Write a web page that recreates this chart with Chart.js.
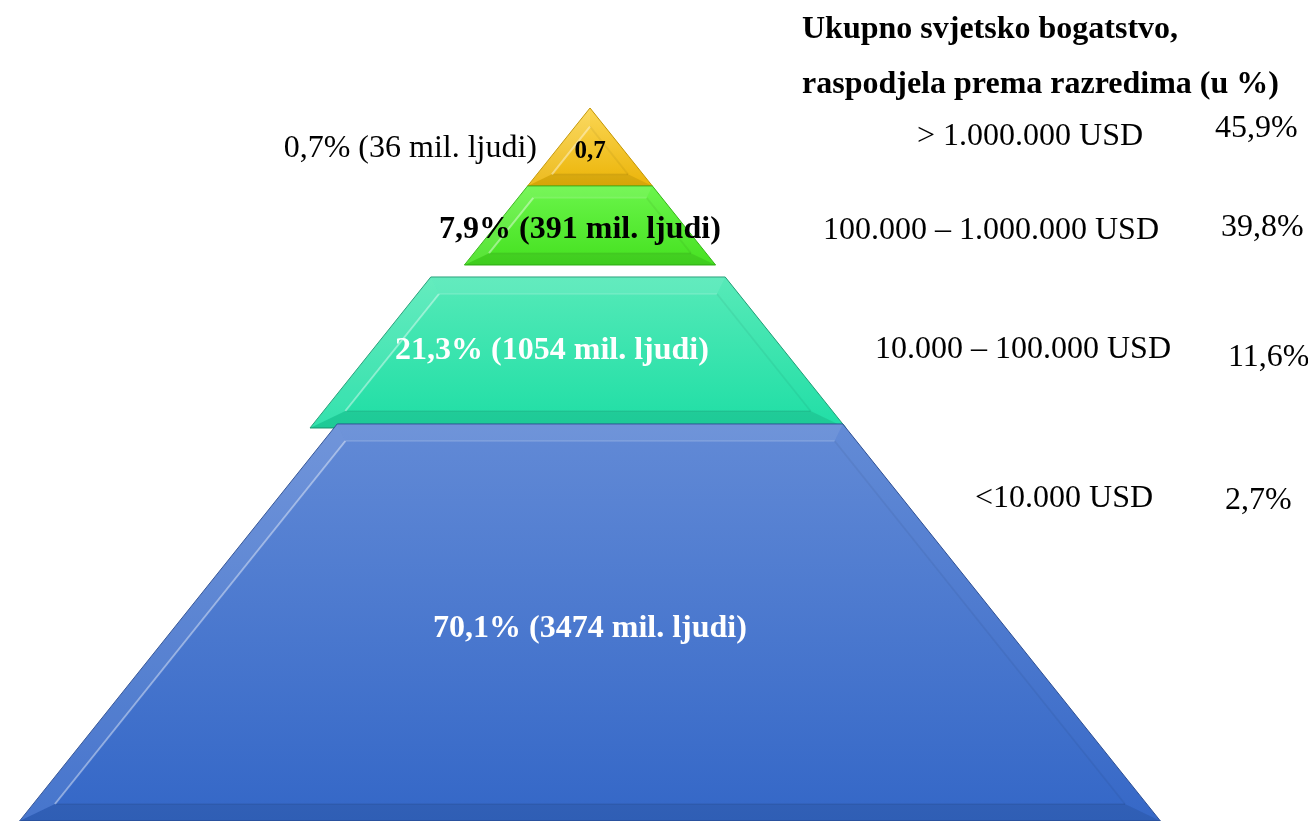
<!DOCTYPE html>
<html lang="hr">
<head>
<meta charset="utf-8">
<title>Ukupno svjetsko bogatstvo</title>
<script src="https://cdn.jsdelivr.net/npm/chart.js@4.4.1/dist/chart.umd.min.js"></script>
<style>
  html, body { margin: 0; padding: 0; background: #ffffff; }
  #wrap { width: 1308px; height: 821px; }
</style>
</head>
<body>
<div id="wrap"><canvas id="pyramid" width="1308" height="821"></canvas></div>
<script>
// wealth classes, from the top of the pyramid down
const wealthClasses = ['> 1.000.000 USD', '100.000 – 1.000.000 USD', '10.000 – 100.000 USD', '<10.000 USD'];
const adultShare = [0.7, 7.9, 21.3, 70.1];       // % of world adults
const adultsMillions = [36, 391, 1054, 3474];    // mil. ljudi
const wealthShare = [45.9, 39.8, 11.6, 2.7];     // % of total world wealth
const titleLines = ['Ukupno svjetsko bogatstvo,', 'raspodjela prema razredima (u %)'];

// pyramid geometry, in scale units (y grows downwards)
const apex = { x: 590, y: 108 };
const slope = 0.8;
const bandTop = [108, 186, 277, 424];
const bandBottom = [186, 265, 428, 821];
const leftFlare = [0, 0, 24, 0];

// [top, bottom, edge]
const palette = [
  ['#fbd651', '#ebb408', '#c29400'],
  ['#6af54a', '#45e120', '#33b516'],
  ['#55eab8', '#1fdea5', '#1f9c74'],
  ['#628ad6', '#3467c7', '#2b4d92']
];

// text placement (left/center x, baseline y)
const insideLabels = [{ x: 590, y: 158 }, { x: 580, y: 238 }, { x: 552, y: 359 }, { x: 590, y: 637 }];
const topOutside = { x: 537, y: 157 };
const classPos = [{ x: 917, y: 145 }, { x: 823, y: 239 }, { x: 875, y: 358 }, { x: 975, y: 507 }];
const sharePos = [{ x: 1215, y: 137 }, { x: 1221, y: 236 }, { x: 1228, y: 366 }, { x: 1225, y: 509 }];
const titlePos = [{ x: 802, y: 38 }, { x: 802, y: 93 }];

const SERIF = '"Liberation Serif", "Times New Roman", serif';
const fmt = v => v.toFixed(1).replace('.', ',');

function layerPoints(i) {
  const t = bandTop[i], b = bandBottom[i];
  const ht = (t - apex.y) * slope, hb = (b - apex.y) * slope;
  const f = leftFlare[i];
  return [
    { x: apex.x - ht - f, y: t }, { x: apex.x + ht, y: t },
    { x: apex.x + hb, y: b }, { x: apex.x - hb - f, y: b },
    { x: apex.x - ht - f, y: t }
  ];
}

const datasets = wealthClasses.map((name, i) => ({
  label: name,
  data: layerPoints(i),
  showLine: true,
  fill: 'shape',
  pointRadius: 0,
  borderWidth: 1,
  borderColor: palette[i][2],
  order: wealthClasses.length - i,
  backgroundColor: (ctx) => {
    const y = ctx.chart.scales.y;
    if (!y || !ctx.chart.chartArea) return palette[i][1];
    const g = ctx.chart.ctx.createLinearGradient(0, y.getPixelForValue(bandTop[i]), 0, y.getPixelForValue(bandBottom[i]));
    g.addColorStop(0, palette[i][0]);
    g.addColorStop(1, palette[i][1]);
    return g;
  }
}));

// bevel shading on each layer, computed from the drawn points
function insetPolygon(pts, d) {
  const n = pts.length;
  const lines = [];
  for (let i = 0; i < n; i++) {
    const p = pts[i], q = pts[(i + 1) % n];
    const len = Math.hypot(q.x - p.x, q.y - p.y);
    const ux = (q.x - p.x) / len, uy = (q.y - p.y) / len;
    lines.push({ px: p.x - uy * d, py: p.y + ux * d, ux, uy });
  }
  return pts.map((_, i) => {
    const a = lines[(i - 1 + n) % n], b = lines[i];
    const den = a.ux * b.uy - a.uy * b.ux;
    const t = ((b.px - a.px) * b.uy - (b.py - a.py) * b.ux) / den;
    return { x: a.px + a.ux * t, y: a.py + a.uy * t };
  });
}

const bevelPlugin = {
  id: 'bevel',
  afterDatasetDraw(chart, args) {
    const raw = args.meta.data.slice(0, 4).map(p => ({ x: p.x, y: p.y }));
    const pts = raw.filter((p, k) => k === 0 || Math.hypot(p.x - raw[k - 1].x, p.y - raw[k - 1].y) > 0.5);
    const h = pts[pts.length - 1].y - pts[0].y;
    const d = Math.max(9, Math.min(17, h * 0.15));
    const inner = insetPolygon(pts, d);
    const c = chart.ctx;
    const L = { x: -0.514, y: -0.857 };
    c.save();
    for (let i = 0; i < pts.length; i++) {
      const j = (i + 1) % pts.length;
      const ex = pts[j].x - pts[i].x, ey = pts[j].y - pts[i].y;
      const len = Math.hypot(ex, ey);
      const ox = ey / len, oy = -ex / len; // outward normal
      const lit = ox * L.x + oy * L.y;
      c.beginPath();
      c.moveTo(pts[i].x, pts[i].y);
      c.lineTo(pts[j].x, pts[j].y);
      c.lineTo(inner[j].x, inner[j].y);
      c.lineTo(inner[i].x, inner[i].y);
      c.closePath();
      c.fillStyle = lit > 0 ? `rgba(255,255,255,${0.1 * lit})` : `rgba(0,0,0,${0.1 * -lit})`;
      c.fill();
      let stroke = 'rgba(0,0,0,0.05)';
      if (ox < -0.5) stroke = 'rgba(255,255,255,0.42)';
      else if (oy < -0.9) stroke = 'rgba(255,255,255,0.12)';
      c.beginPath();
      c.moveTo(inner[i].x, inner[i].y);
      c.lineTo(inner[j].x, inner[j].y);
      c.lineWidth = 2;
      c.strokeStyle = stroke;
      c.stroke();
    }
    c.restore();
  }
};

const textPlugin = {
  id: 'pyramidText',
  afterDraw(chart) {
    const c = chart.ctx;
    const sx = v => chart.scales.x.getPixelForValue(v);
    const sy = v => chart.scales.y.getPixelForValue(v);
    c.save();
    c.textBaseline = 'alphabetic';

    c.fillStyle = '#000000';
    c.textAlign = 'left';
    c.font = `bold 32px ${SERIF}`;
    titleLines.forEach((t, k) => c.fillText(t, sx(titlePos[k].x), sy(titlePos[k].y)));

    c.font = `32px ${SERIF}`;
    wealthClasses.forEach((t, k) => c.fillText(t, sx(classPos[k].x), sy(classPos[k].y)));
    wealthShare.forEach((v, k) => c.fillText(fmt(v) + '%', sx(sharePos[k].x), sy(sharePos[k].y)));

    c.textAlign = 'right';
    c.fillText(`${fmt(adultShare[0])}% (${adultsMillions[0]} mil. ljudi)`, sx(topOutside.x), sy(topOutside.y));

    c.textAlign = 'center';
    adultShare.forEach((v, k) => {
      if (k === 0) {
        c.font = `bold 25px ${SERIF}`;
        c.fillStyle = '#000000';
        c.fillText(fmt(v), sx(insideLabels[k].x), sy(insideLabels[k].y));
        return;
      }
      c.font = `bold 32px ${SERIF}`;
      c.fillStyle = k === 1 ? '#000000' : '#ffffff';
      c.fillText(`${fmt(v)}% (${adultsMillions[k]} mil. ljudi)`, sx(insideLabels[k].x), sy(insideLabels[k].y));
    });
    c.restore();
  }
};

new Chart(document.getElementById('pyramid'), {
  type: 'scatter',
  data: { datasets },
  options: {
    responsive: false,
    animation: false,
    layout: { padding: 0 },
    plugins: { legend: { display: false }, tooltip: { enabled: false } },
    scales: {
      x: { type: 'linear', min: 0, max: 1308, display: false },
      y: { type: 'linear', min: 0, max: 821, reverse: true, display: false }
    }
  },
  plugins: [bevelPlugin, textPlugin]
});
</script>
</body>
</html>
